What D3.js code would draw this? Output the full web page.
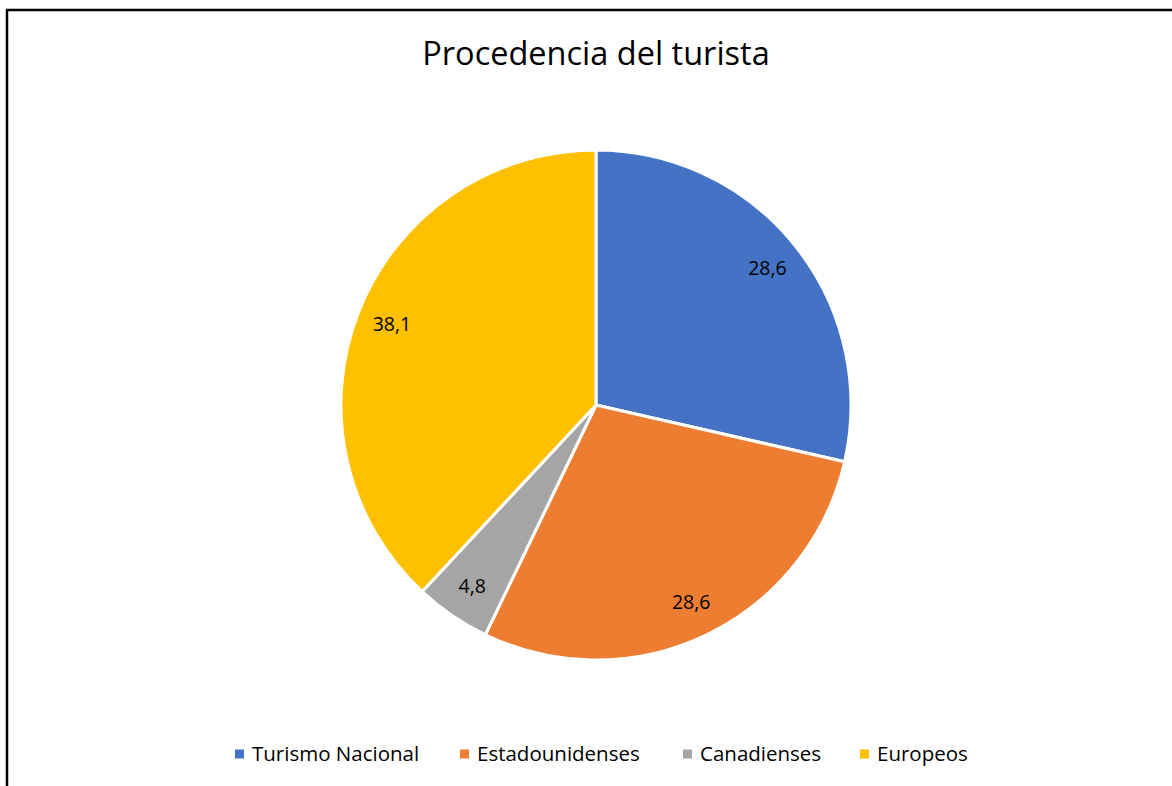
<!DOCTYPE html>
<html>
<head>
<meta charset="utf-8">
<script src="https://cdn.jsdelivr.net/npm/d3@7"></script>
<style>
  body { margin: 0; background: #fff; }
  text { font-family: "Open Sans", "Noto Sans", sans-serif; }
</style>
</head>
<body>
<svg id="pie"></svg>
<script>
var categories = ["Turismo Nacional", "Estadounidenses", "Canadienses", "Europeos"];
var values = [28.6, 28.6, 4.8, 38.1];
var colors = ["#4472C4", "#ED7D31", "#A5A5A5", "#FFC000"];

var width = 1172,
    height = 786,
    cx = 596,
    cy = 405,
    radius = 255;

var svg = d3.select("#pie")
  .attr("width", width)
  .attr("height", height);

svg.append("rect")
   .attr("width", width)
   .attr("height", height)
   .attr("fill", "#fff");

// chart border (only top and left visible)
svg.append("path")
   .attr("d", "M7," + height + "V10H" + width)
   .attr("fill", "none")
   .attr("stroke", "#000")
   .attr("stroke-width", 2.5);

svg.append("text")
   .attr("x", cx)
   .attr("y", 65)
   .attr("text-anchor", "middle")
   .attr("font-size", "32.5px")
   .attr("fill", "#000")
   .text("Procedencia del turista");

var data = categories.map(function(c, i) { return { name: c, value: values[i], color: colors[i] }; });

var pie = d3.pie().sort(null).value(function(d) { return d.value; });
var arc = d3.arc().innerRadius(0).outerRadius(radius);
var labelArc = d3.arc().innerRadius(radius * 0.86).outerRadius(radius * 0.86);

var g = svg.append("g")
  .attr("transform", "translate(" + cx + "," + cy + ")");

var slices = pie(data);

g.selectAll(".slice")
 .data(slices)
 .enter().append("path")
 .attr("class", "slice")
 .attr("d", arc)
 .attr("fill", function(d) { return d.data.color; })
 .attr("stroke", "#fff")
 .attr("stroke-width", 3);

g.selectAll(".lbl")
 .data(slices)
 .enter().append("text")
 .attr("class", "lbl")
 .attr("transform", function(d) { return "translate(" + labelArc.centroid(d) + ")"; })
 .attr("text-anchor", "middle")
 .attr("dy", "0.35em")
 .attr("font-size", "19.5px")
 .attr("fill", "#000")
 .text(function(d) { return String(d.data.value).replace(".", ","); });

// legend
var legendX = [235, 460, 683, 860];
var legend = svg.selectAll(".leg")
  .data(data)
  .enter().append("g")
  .attr("class", "leg")
  .attr("transform", function(d, i) { return "translate(" + legendX[i] + ",754)"; });

legend.append("rect")
  .attr("x", 0)
  .attr("y", -4.5)
  .attr("width", 9)
  .attr("height", 9)
  .attr("fill", function(d) { return d.color; });

legend.append("text")
  .attr("x", 17)
  .attr("dy", "0.35em")
  .attr("font-size", "20.5px")
  .attr("fill", "#000")
  .text(function(d) { return d.name; });
</script>
</body>
</html>
